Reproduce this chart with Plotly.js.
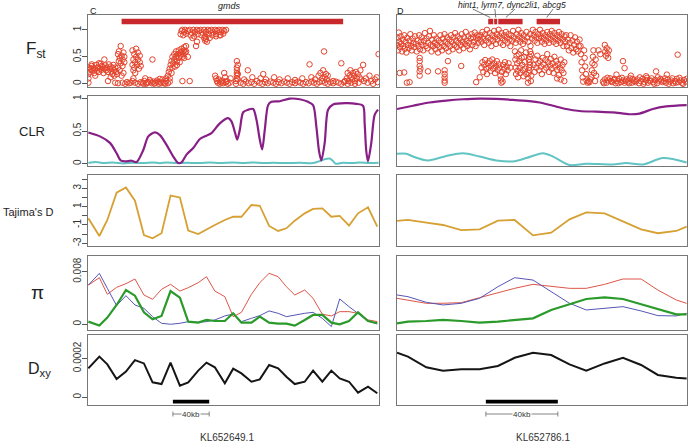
<!DOCTYPE html>
<html>
<head>
<meta charset="utf-8">
<script src="https://cdn.plot.ly/plotly-3.0.1.min.js"></script>
<style>body{margin:0;background:#fff}#chart{width:690px;height:444px}</style>
</head>
<body>
<div id="chart"></div>
<script>
// ---- data (positions in kb along each scaffold) ----
var scaffolds = ['KL652649.1', 'KL652786.1'];
var panelLetters = ['C', 'D'];

// Fst per SNP, [kb, Fst]
var fstLeft = [
  [0.5,0.02],[0.5,0.1],[0.5,0.18],[0.5,0.25],[1,0.3],[2,0.22],[3,0.28],[4,0.33],[5,0.25],[6,0.3],[7,0.2],[8,0.27],[9,0.35],[10,0.24],
  [11,0.3],[12,0.22],[13,0.28],[14,0.37],[15,0.26],[16,0.31],[17,0.2],[18,0.28],[19,0.34],[20,0.25],[21,0.3],[22,0.22],[23,0.36],
  [24,0.27],[25,0.32],[26,0.23],[27,0.29],[28,0.35],[29,0.25],[30,0.3],[31,0.22],[18,0.45],[12,0.38],[25,0.12],[29,0.15],[22,0.05],
  [8,0.15],[4,0.36],[15,0.33],[27,0.18],
  [32,0.18],[33,0.55],[33,0.3],[34,0.42],[34,0.6],[35,0.48],[35,0.25],[36,0.7],[36,0.38],[37,0.52],[37,0.15],[38,0.45],[38,0.33],
  [39,0.58],[39,0.2],[40,0.4],[40,0.5],[30,0.02],[33,0.01],[38,0.02],[41,0.0],[43,0.03],[45,0.01],[47,0.02],
  [49,0.35],[49,0.62],[50,0.25],[50,0.45],[51,0.55],[51,0.3],[52,0.4],[52,0.2],[53,0.65],[53,0.5],[54,0.35],[55,0.45],[55,0.58],
  [56,0.28],[57,0.4],[57,0.52],[58,0.33],[49,0.05],[50,0.1],[52,0.02],[55,0.0],[58,0.03],
  [60,0.02],[62,0.05],[64,0.0],[66,0.03],[68,0.07],[70,0.01],[72,0.04],[74,0.02],[76,0.06],[78,0.0],[80,0.03],[82,0.08],[84,0.02],
  [86,0.05],[88,0.01],[90,0.04],[63,0.1],[71,0.45],[79,0.09],[86,0.1],[61,0.0],[65,0.02],[69,0.04],[73,0.0],[77,0.03],[81,0.01],[85,0.0],
  [88,0.15],[89,0.22],[90,0.1],[90,0.28],[91,0.35],[92,0.2],[92,0.42],[93,0.3],[93,0.5],[94,0.38],[95,0.55],[95,0.45],[96,0.32],
  [97,0.5],[97,0.6],[98,0.42],[99,0.55],[100,0.48],[100,0.62],[101,0.4],[102,0.58],[102,0.52],[103,0.65],[104,0.5],[104,0.6],
  [105,0.55],[106,0.68],[106,0.62],[107,0.58],[108,0.7],[108,0.6],[110,0.5],[112,0.05],[98,0.35],[104,0.05],[106,0.48],
  [102,0.92],[103,0.98],[104,1.0],[105,0.9],[106,0.96],[107,1.0],[108,0.93],[110,0.98],[112,1.0],[113,0.9],[114,0.95],[116,1.0],
  [117,0.88],[118,0.96],[120,1.0],[121,0.92],[122,0.98],[124,1.0],[125,0.9],[126,0.95],[128,1.0],[129,0.88],[130,0.96],[132,1.0],
  [133,0.92],[134,0.98],[136,1.0],[137,0.9],[138,0.95],[140,1.0],[141,0.92],[142,0.98],[144,1.0],[145,0.9],[146,0.96],[148,1.0],
  [149,0.93],[150,0.98],[152,1.0],[115,0.85],[119,0.7],[120,0.78],[128,0.85],[129,0.8],[130,0.83],[131,0.78],[134,0.85],[141,0.88],[146,0.9],
  [140,0.15],[141,0.1],[142,0.05],[143,0.02],[144,0.08],[145,0.0],[146,0.04],[147,0.02],[148,0.06],[150,0.2],[151,0.12],[152,0.03],
  [154,0.0],[156,0.02],[157,0.1],[149,0.01],[153,0.05],
  [163,0.0],[163,0.05],[164,0.1],[164,0.15],[164,0.2],[164,0.25],[164,0.3],[165,0.35],[164,0.42],[165,0.08],[165,0.18],
  [168,0.02],[171,0.0],[174,0.04],[177,0.01],[180,0.03],[183,0.0],[186,0.05],[189,0.02],[192,0.0],[195,0.03],[198,0.01],[201,0.04],
  [204,0.02],[207,0.0],[210,0.03],[213,0.01],[216,0.04],[219,0.02],[222,0.0],[225,0.03],[228,0.01],[231,0.04],[234,0.02],[237,0.0],
  [240,0.03],[243,0.01],[246,0.04],[249,0.02],[252,0.0],[255,0.03],[258,0.05],[261,0.02],[264,0.0],[267,0.03],[270,0.01],[273,0.04],
  [276,0.02],[279,0.0],[282,0.03],
  [172,0.08],[176,0.25],[181,0.12],[190,0.1],[193,0.18],[196,0.08],[205,0.12],[211,0.08],[220,0.1],[228,0.07],[236,0.1],[244,0.36],
  [246,0.12],[250,0.08],[254,0.15],[256,0.2],[258,0.1],[259,0.25],[260,0.6],[261,0.12],[262,0.18],[263,0.08],[264,0.15],[270,0.05],
  [279,0.38],[283,0.05],
  [285,0.1],[286,0.2],[287,0.05],[288,0.15],[289,0.25],[290,0.12],[291,0.08],[292,0.2],[293,0.15],[294,0.05],[295,0.22],[296,0.1],
  [297,0.18],[298,0.02],[299,0.12],[300,0.25],[301,0.08],[286,0.0],[290,0.02],[294,0.0],
  [303,0.35],[304,0.05],[306,0.1],[308,0.02],[310,0.15],[312,0.05],[314,0.0],[316,0.08],[318,0.12],[320,0.55],[319,0.03]
];

var fstRight = [
  [0,0.72],[0.3,0.85],[0.6,0.62],[1,0.95],[1.2,0.78],[1.6,0.68],[2,0.88],[2.3,0.74],[2.8,0.6],[3.2,0.82],[3.5,0.7],[4,0.9],
  [4.4,0.65],[4.8,0.78],[5.2,0.58],[5.6,0.85],[6,0.72],[6.5,0.66],[7,0.8],[7.4,0.92],[7.8,0.7],[8.2,0.62],[8.7,0.84],[9.1,0.76],
  [9.6,0.68],[10,0.88],[10.5,0.74],[11,0.6],[11.4,0.8],[11.9,0.7],[12.3,0.9],[12.8,0.64],[13.2,0.78],[13.7,0.86],[14.1,0.72],
  [14.6,0.62],[15,0.8],[15.5,0.94],[16,0.7],[16.4,0.84],[16.9,0.66],[17.3,0.76],[17.8,0.88],[18.3,0.98],[18.7,0.72],[19.2,0.6],
  [19.6,0.82],[20.1,0.7],[20.5,0.9],[21,0.76],[21.4,0.64],[21.9,0.84],[22.3,0.72],[22.8,0.58],[23.2,0.8],[23.7,0.68],[24.1,0.9],
  [24.6,0.76],[25,0.62],[25.5,0.84],[26,0.7],[26.4,0.92],[26.9,0.78],[27.3,0.66],[27.8,0.86],[28.2,0.74],[28.7,0.6],[29.1,0.82],
  [29.6,0.7],[30,0.9],[30.5,0.78],[31,0.64],[31.4,0.86],[31.9,0.72],[32.3,0.94],[32.8,0.8],[33.2,0.68],[33.7,0.88],[34.1,0.76],
  [34.6,0.62],[35,0.84],[35.5,0.72],[36,0.92],[36.4,0.78],[36.9,0.66],[37.3,0.86],[37.8,0.74],[38.2,0.96],[38.7,0.8],[39.1,0.7],
  [39.6,0.88],[40,0.76],[40.5,0.64],[41,0.84],[41.4,0.92],[41.9,0.72],[42.3,0.86],[42.8,0.78],[43.2,0.95],[43.7,0.7],[44.1,0.84],
  [44.6,0.9],[45,0.76],[45.5,0.88],[46,0.82],
  [1.5,0.2],[4,0.21],[5.5,0.02],[7,0.03],[12.6,0.48],[12.6,0.42],[12.6,0.33],[12.6,0.23],[12.6,0.15],[13,0.28],[17.2,0.23],
  [22.8,0.23],[26.5,0.25],[26.5,0.18],[26.5,0.12],[26.5,0.06],[26.5,0.02],[28.3,0.42],[35.7,0.33],[44,0.03],
  [46.5,0.9],[47,0.78],[47.5,0.96],[48,0.84],[48.5,0.72],[49,0.92],[49.5,0.8],[50,1.0],[50.5,0.86],[51,0.76],[51.5,0.94],[52,0.82],
  [52.5,0.7],[53,0.9],[53.5,0.8],[54,0.98],[54.5,0.86],[55,0.74],[55.5,0.92],[56,0.82],[56.5,1.0],[57,0.88],[57.5,0.76],[58,0.94],
  [58.5,0.84],[59,0.72],[59.5,0.9],[60,0.8],[60.5,0.96],[61,0.86],[61.5,0.76],[62,0.92],[62.5,0.82],[63,0.7],[63.5,0.9],[64,0.8],
  [64.5,0.98],[65,0.86],[66,0.76],[66.5,0.92],[67,0.82],[67.5,1.0],[68,0.88],[68.5,0.78],[69,0.94],[69.5,0.84],[70,0.74],[70.5,0.9],
  [71,0.8],[72,0.96],[72.5,0.86],[73,0.78],[74,0.92],[75,0.84],[75.5,1.0],
  [46,0.12],[47,0.3],[47.5,0.4],[48,0.22],[48.5,0.35],[49,0.44],[49.5,0.28],[50,0.18],[50.5,0.38],[51,0.3],[51.5,0.42],[52,0.24],
  [52.5,0.34],[53,0.45],[53.5,0.28],[54,0.38],[54.5,0.2],[55,0.32],[55.5,0.42],[56,0.26],[56.5,0.36],[57,0.3],[57.5,0.15],[57.8,0.08],
  [58,0.02],[58.3,0.22],[58.7,0.04],[59,0.35],[59.5,0.28],[60,0.4],[60.5,0.18],[61,0.32],[61.5,0.25],[62,0.38],[63,0.3],
  [65.6,0.6],[65.8,0.45],[66,0.3],[66.2,0.18],[66.5,0.52],[66.8,0.38],[67,0.24],[67.3,0.12],[67.6,0.55],[68,0.42],[68.3,0.3],
  [68.6,0.2],[69,0.62],[69.3,0.48],[69.6,0.35],[70,0.25],[70.3,0.14],[70.6,0.5],[71,0.4],[71.3,0.28],[71.7,0.58],[71.9,0.18],
  [72.8,0.02],[73,0.1],[73.2,0.2],[73.4,0.3],[73.6,0.4],[73.8,0.5],[74,0.6],[74.2,0.7],[74.4,0.05],[74.6,0.15],[73.5,0.25],
  [74,0.35],[73.3,0.45],[74.5,0.55],
  [76,0.9],[76.5,0.8],[77,0.96],[77.5,0.86],[78,0.76],[78.5,0.92],[79,0.84],[79.5,1.0],[80,0.88],[80.5,0.78],[81,0.94],[81.5,0.84],
  [82,0.74],[82.5,0.9],[83,0.8],[83.5,0.96],[84,0.86],[84.5,0.76],[85,0.92],[85.5,0.82],[86,0.98],[86.5,0.88],[87,0.78],[87.5,0.94],
  [88,0.84],[88.5,0.74],[89,0.9],[89.5,0.8],[90,0.96],[90.5,0.86],[91,0.76],[91.5,0.92],[92,0.82],[92.5,0.7],[93,0.88],[93.5,0.78],
  [76,0.35],[76.5,0.22],[77,0.45],[77.5,0.3],[78,0.52],[78.5,0.38],[79,0.25],[79.5,0.42],[80,0.32],[80.5,0.18],[81,0.48],[81.5,0.36],
  [82,0.26],[82.5,0.44],[83,0.3],[83.5,0.55],[84,0.4],[84.5,0.22],[85,0.34],[85.5,0.46],[86,0.28],[86.5,0.38],[87,0.2],[87.5,0.5],
  [88,0.32],[88.5,0.42],[89,0.26],[89.5,0.36],[90,0.16],[90.5,0.3],[91,0.45],[91.5,0.25],[92,0.35],[92.5,0.2],[93,0.4],
  [89,0.1],[91,0.08],[93,0.05],
  [94,0.9],[94.5,0.7],[95,0.82],[95.5,0.62],[96,0.76],[96.5,0.9],[97,0.66],[97.5,0.8],[98,0.58],[98.5,0.72],[99,0.86],[99.5,0.64],
  [100,0.78],[100.5,0.6],[101,0.7],[101.5,0.82],
  [102,0.7],[102.3,0.55],[102.6,0.4],[102.9,0.25],[103.2,0.12],[103.5,0.04],[104,0.62],[104.3,0.48],[104.6,0.32],[105,0.18],
  [105.4,0.06],[106,0.02],[106.5,0.05],[107,0.03],[107.5,0.08],[108,0.12],[108.3,0.25],[108.6,0.38],[108.9,0.5],[109.2,0.62],
  [109.5,0.2],[109.8,0.35],[110.1,0.05],[110.4,0.45],[110.7,0.15],
  [112,0.62],[113,0.55],[115.5,0.72],[115.8,0.6],[116.2,0.52],[116.6,0.66],[117,0.56],[117.4,0.48],[117.8,0.62],
  [114.5,0.04],[115.5,0.08],[116.5,0.02],[117.5,0.06],[118.5,0.1],[119.5,0.03],[120.5,0.07],[121.5,0.01],[122.5,0.05],[123.5,0.09],
  [124.5,0.03],[125.5,0.06],[126.5,0.02],[127.5,0.08],[128.5,0.04],[129.5,0.1],[130.5,0.02],[131.5,0.06],[132.5,0.03],[133.5,0.08],
  [134.5,0.01],[135.5,0.05],[136.5,0.09],[137.5,0.03],[138.5,0.07],[139.5,0.02],[140.5,0.05],[141.5,0.1],[142.5,0.03],[143.5,0.07],
  [144.5,0.01],[145.5,0.06],[146.5,0.09],[147.5,0.03],[148.5,0.05],[149.5,0.02],[150.5,0.08],[151.5,0.04],[152.5,0.06],[153.5,0.01],
  [154.5,0.05],[155.5,0.09],[156.5,0.03],[157.5,0.06],[158.5,0.02],[159.5,0.07],[160.5,0.04],
  [115,0.01],[117,0.11],[119,0.05],[121,0.09],[123,0.01],[125,0.11],[127,0.05],[129,0.01],[131,0.09],[133,0.05],[135,0.12],
  [137,0.0],[139,0.11],[141,0.06],[143,0.0],[145,0.12],[147,0.06],[149,0.1],[151,0.0],[153,0.1],[155,0.02],[157,0.11],[159,0.0],
  [161,0.09],
  [125.6,0.42],[126.5,0.29],[122,0.17],[138.5,0.14],[144,0.23],[156,0.54],[130,0.15],[150,0.17]
];

// CLR (two populations)
var clrLeftKb = [0.4,13.2,24.2,31.5,35.9,40.7,48.1,53.5,60.9,66.4,73.7,79.2,86.5,93.9,99.4,103,108.5,115.9,123.2,130.5,136,
  145.2,154.4,158,161.7,164.3,167.2,170.9,176.4,181.9,185.6,189.2,191.8,194.7,198.4,202,211.2,222.2,233.2,242.4,247.9,251.5,
  254.5,257,260.7,264.4,269.9,284.5,295.5,302.9,304.7,306.5,308.4,312,315.7,319.4];
var clrLeftA = [0.48,0.42,0.32,0.16,0.05,0.036,0.046,0.026,0.21,0.42,0.48,0.44,0.29,0.11,0.01,0.02,0.14,0.24,0.38,0.43,0.47,
  0.62,0.70,0.65,0.49,0.37,0.52,0.79,0.83,0.84,0.67,0.37,0.22,0.52,0.9,0.95,0.96,1.0,0.99,0.95,0.9,0.57,
  0.19,0.05,0.32,0.83,0.91,0.93,0.92,0.89,0.62,0.19,0.04,0.32,0.75,0.83];
var clrLeftBKb = [0.4,8.8,15.8,27.9,38.9,49.9,60.9,71.9,79.2,86.5,97.5,108.5,123.2,134.2,145.2,159.9,170.9,181.9,192.9,203.9,
  218.5,233.2,247.9,255.2,260.7,266.2,269.9,272.8,280.9,291.9,299.2,310.2,320];
var clrLeftB = [0.01,0.025,0.01,0.02,0.005,0.015,0.01,0.02,0.008,0.02,0.01,0.015,0.01,0.02,0.01,0.02,0.01,0.02,0.01,0.015,
  0.01,0.015,0.01,0.04,0.07,0.08,0.04,0.0,0.015,0.01,0.02,0.01,0.015];
var clrRightKb = [0,8.9,18.1,27.4,36.7,45.9,55.2,64.4,73.7,79.3,86.7,94.1,101.5,110.7,120,129.3,134.8,142.2,149.6,161];
var clrRightA = [0.84,0.89,0.94,0.97,0.99,1.0,0.995,0.98,0.96,0.94,0.89,0.84,0.81,0.80,0.79,0.76,0.77,0.84,0.88,0.9];
var clrRightBKb = [0,5.2,8.9,17.2,27.4,36.7,45.9,55.2,64.4,71.9,81.1,86.7,95.9,105.2,120,127.4,136.7,147.8,161];
var clrRightB = [0.153,0.153,0.11,0.05,0.12,0.16,0.11,0.05,0.036,0.087,0.16,0.11,-0.02,0.0,-0.012,0.01,-0.012,0.087,0.02];

// windowed statistics
var winLeft = [0.4,12.5,21.3,31.5,41.8,51.7,61.6,71.1,81,90.9,101.2,110.4,121.4,130.5,139.7,150.7,159.9,169,180,189.2,199.5,
  209.4,218.5,227.7,238.7,247.9,258.1,268,277.2,287.5,297.4,308.4,318.6];
var winRight = [0,6.1,16.3,25.6,35.7,45.9,56.1,65.4,75.6,85.7,95.9,105.2,115.4,125.6,135.7,145,155.2,161];

var tajimaLeft = [-0.27,-2.2,-0.45,2.53,3.1,1.65,-2.1,-2.45,-1.9,2.2,2.0,-1.6,-1.98,-1.47,-1.0,-0.45,-0.1,-0.1,1.18,1.1,
  -1.1,-1.65,-1.36,-0.53,0.27,0.75,0.82,-0.1,0.0,-1.07,0.27,0.93,-1.18];
var tajimaRight = [-0.56,-0.45,-0.75,-1.0,-1.55,-1.47,-0.53,-0.45,-2.13,-1.84,-0.38,0.38,0.27,-0.64,-1.47,-1.9,-1.65,-1.18];

var piLeftRed = [0.00597,0.00709,0.00456,0.00562,0.00618,0.00689,0.00446,0.0038,0.00532,0.00608,0.00506,0.00557,0.00633,
  0.00724,0.00506,0.0042,0.00116,0.00182,0.00456,0.00633,0.00775,0.00724,0.00572,0.00446,0.00521,0.00395,0.00152,0.00127,
  0.00192,0.00192,0.00167,0.00066,0.00041];
var piLeftBlue = [0.00597,0.00775,0.00547,0.00284,0.00435,0.00294,0.00243,0.00116,0.00015,0.0,0.00015,0.0004,0.0003,0.0004,
  0.00066,0.00127,0.00157,0.0004,0.00091,0.00132,0.00203,0.00167,0.00116,0.00142,0.00167,0.00182,0.0009,-0.00035,0.00385,
  0.00268,0.00167,0.0005,0.00005];
var piLeftGreen = [0.0004,-0.0002,0.00101,0.00294,0.00521,0.00435,0.00182,0.00076,0.00127,0.00506,0.00405,0.0004,0.00025,
  0.00066,0.0005,0.0005,0.00167,0.00025,0.00025,0.00116,0.00025,0.0001,0.0001,-0.0002,0.00066,0.00142,0.00142,0.00025,0.0,
  0.0005,0.00182,0.0005,0.00015];
var piRightRed = [0.00395,0.0037,0.00319,0.0032,0.00329,0.00405,0.0048,0.00547,0.00608,0.00572,0.00547,0.00547,0.00608,
  0.00689,0.00689,0.00521,0.0037,0.00319];
var piRightBlue = [0.00446,0.0042,0.00334,0.00294,0.00319,0.00395,0.00572,0.00709,0.00673,0.00496,0.00319,0.00218,0.00243,
  0.00268,0.00203,0.00132,0.00127,0.00167];
var piRightGreen = [0.00015,0.0004,0.0005,0.00066,0.0005,0.00025,0.0004,0.00061,0.00091,0.00218,0.00304,0.00385,0.0041,
  0.00385,0.00304,0.00228,0.00152,0.00152];

var dxyLeft = [1.49e-4,2.09e-4,1.69e-4,9.4e-5,1.32e-4,1.91e-4,1.74e-4,7.7e-5,6.8e-5,1.78e-4,6.0e-5,7.7e-5,1.37e-4,1.78e-4,
  1.54e-4,7.2e-5,1.47e-4,1.23e-4,8.0e-5,9.2e-5,1.66e-4,1.49e-4,1.06e-4,6.8e-5,8.0e-5,1.37e-4,8.0e-5,1.37e-4,9.7e-5,8.0e-5,
  2.4e-5,5.5e-5,2.1e-5];
var dxyRight = [2.29e-4,2.09e-4,1.54e-4,1.37e-4,1.44e-4,1.44e-4,1.61e-4,2.03e-4,2.29e-4,2.17e-4,1.69e-4,1.37e-4,1.74e-4,
  2.03e-4,1.66e-4,1.15e-4,1.01e-4,9.7e-5];

// genes (kb)
var genesLeft = {name: 'gmds', start: [37], end: [281]};
var genesRight = {name: 'hint1, lyrm7, dync2li1, abcg5', start: [50.7, 54.0, 56.3, 77.6], end: [53.5, 55.7, 69.8, 90.6]};
var scaleStart = [93.5, 49.4];
var scaleLen = 40;

// ---- layout helpers ----
var W = 690, H = 444;
var colPx = [[88, 379], [397, 687]];
var rowPx = [[15, 87], [96, 166], [175, 246], [256, 330], [335, 405]];
var kbRange = [[0, 320.5], [0, 161.2]];
var yRanges = [[-0.06, 1.276], [-0.035, 1.04], [-3.29, 4.45], [-0.00087, 0.01039], [-0.0000395, 0.00032]];
var yTicks = [
  {vals: [0, 0.5, 1], text: ['0', '0.5', '1'], minor: []},
  {vals: [0, 0.5, 1], text: ['0', '0.5', '1'], minor: []},
  {vals: [-3, -1, 1, 3], text: ['-3', '-1', '1', '3'], minor: [-2, 0, 2, 4]},
  {vals: [0, 0.008], text: ['0', '0.008'], minor: []},
  {vals: [0, 0.0002], text: ['0', '0.0002'], minor: []}
];
function px2x(p) { return p / W; }
function px2y(p) { return 1 - p / H; }
function axName(r, c) { var n = r * 2 + c + 1; return n === 1 ? '' : String(n); }

var layout = {
  width: W, height: H,
  margin: {l: 0, r: 0, t: 0, b: 0},
  paper_bgcolor: '#fff', plot_bgcolor: '#fff',
  showlegend: false,
  font: {family: 'Liberation Sans, Arial, sans-serif', color: '#222'},
  shapes: [], annotations: []
};

for (var r = 0; r < 5; r++) {
  for (var c = 0; c < 2; c++) {
    var n = axName(r, c);
    layout['xaxis' + n] = {
      domain: [px2x(colPx[c][0]), px2x(colPx[c][1])], range: kbRange[c], anchor: 'y' + n,
      showline: true, mirror: true, linecolor: '#777', linewidth: 1,
      showgrid: false, zeroline: false, showticklabels: false, ticks: '', fixedrange: true
    };
    var ya = {
      domain: [px2y(rowPx[r][1]), px2y(rowPx[r][0])], range: yRanges[r], anchor: 'x' + n,
      showline: true, mirror: true, linecolor: '#777', linewidth: 1,
      showgrid: false, zeroline: false, fixedrange: true
    };
    if (c === 0) {
      ya.tickmode = 'array'; ya.tickvals = yTicks[r].vals; ya.ticktext = yTicks[r].text;
      ya.ticks = 'outside'; ya.ticklen = 5; ya.tickcolor = '#555'; ya.tickwidth = 1;
      ya.tickangle = -90; ya.tickfont = {size: 10, color: '#333'}; ya.ticklabelstandoff = -3;
      if (yTicks[r].minor.length) {
        ya.minor = {tickmode: 'array', tickvals: yTicks[r].minor, ticks: 'outside', ticklen: 5, tickcolor: '#555', tickwidth: 1, showgrid: false};
      }
    } else {
      ya.showticklabels = false; ya.ticks = '';
    }
    layout['yaxis' + n] = ya;
  }
}

// ---- traces ----
var data = [];
function line(x, y, r, c, color, width, shape) {
  var n = axName(r, c);
  data.push({x: x, y: y, xaxis: 'x' + n, yaxis: 'y' + n, type: 'scatter', mode: 'lines',
    line: {color: color, width: width, shape: shape || 'linear', smoothing: 0.8}, hoverinfo: 'skip'});
}
[fstLeft, fstRight].forEach(function (pts, c) {
  var n = axName(0, c);
  data.push({
    x: pts.map(function (p) { return p[0]; }), y: pts.map(function (p) { return p[1]; }),
    xaxis: 'x' + n, yaxis: 'y' + n, type: 'scatter', mode: 'markers',
    marker: {symbol: 'circle-open', size: 5.5, color: '#e4432b', line: {width: 1, color: '#e4432b'}}, hoverinfo: 'skip'
  });
});
line(clrLeftBKb, clrLeftB, 1, 0, '#62c3c3', 2, 'spline');
line(clrLeftKb, clrLeftA, 1, 0, '#881f86', 2.2, 'spline');
line(clrRightBKb, clrRightB, 1, 1, '#62c3c3', 2, 'spline');
line(clrRightKb, clrRightA, 1, 1, '#881f86', 2.2, 'spline');
line(winLeft, tajimaLeft, 2, 0, '#d6a032', 1.8);
line(winRight, tajimaRight, 2, 1, '#d6a032', 1.8);
line(winLeft, piLeftRed, 3, 0, '#dd5548', 1);
line(winLeft, piLeftBlue, 3, 0, '#5656b4', 1);
line(winLeft, piLeftGreen, 3, 0, '#2a9a2a', 2.2);
line(winRight, piRightRed, 3, 1, '#dd5548', 1);
line(winRight, piRightBlue, 3, 1, '#5656b4', 1);
line(winRight, piRightGreen, 3, 1, '#2a9a2a', 2.2);
line(winLeft, dxyLeft, 4, 0, '#151515', 2);
line(winRight, dxyRight, 4, 1, '#151515', 2);

// ---- genes, scale bars, labels ----
var geneY = [px2y(24.3), px2y(18.8)];
[genesLeft, genesRight].forEach(function (g, c) {
  var xr = 'x' + axName(0, c);
  g.start.forEach(function (s, i) {
    layout.shapes.push({type: 'rect', xref: xr, yref: 'paper', x0: s, x1: g.end[i], y0: geneY[0], y1: geneY[1],
      fillcolor: '#c8282b', line: {width: 0}});
  });
});
// connector lines from gene names to right-hand genes
var conFrom = [42.1, 54.4, 65.6, 86.8];
var conTo = [51.8, 54.9, 60.5, 83.2];
conFrom.forEach(function (f, i) {
  layout.shapes.push({type: 'line', xref: 'x2', yref: 'paper', x0: f, x1: conTo[i], y0: px2y(9), y1: px2y(17.5),
    line: {color: '#555', width: 0.8}});
});

var ann = layout.annotations;
function lab(text, x, y, size, extra) {
  var a = {text: text, xref: 'paper', yref: 'paper', x: px2x(x), y: px2y(y), showarrow: false,
    xanchor: 'center', yanchor: 'middle', font: {size: size, color: '#222'}};
  for (var k in extra) a[k] = extra[k];
  ann.push(a);
}
lab('<i>' + genesLeft.name + '</i>', 229, 6, 9);
lab('<i>' + genesRight.name + '</i>', 512, 5, 8.5);
lab(panelLetters[0], 93, 11, 9);
lab(panelLetters[1], 400, 11, 9);

lab('F<sub>st</sub>', 36, 50, 17);
lab('CLR', 32, 131, 13);
lab('Tajima\'s D', 28, 212, 11);
lab('\u03c0', 37, 292, 19);
lab('D<sub>xy</sub>', 39, 369, 16);

[0, 1].forEach(function (c) {
  var xr = 'x' + axName(4, c);
  var s = scaleStart[c], e = scaleStart[c] + scaleLen;
  layout.shapes.push({type: 'rect', xref: xr, yref: 'paper', x0: s, x1: e, y0: px2y(403.5), y1: px2y(399.8),
    fillcolor: '#000', line: {width: 0}});
  layout.shapes.push({type: 'line', xref: xr, yref: 'paper', x0: s, x1: e, y0: px2y(414), y1: px2y(414),
    line: {color: '#666', width: 0.8}});
  [s, e].forEach(function (v) {
    layout.shapes.push({type: 'line', xref: xr, yref: 'paper', x0: v, x1: v, y0: px2y(411.5), y1: px2y(416.5),
      line: {color: '#666', width: 0.8}});
  });
  ann.push({text: '40kb', xref: xr, yref: 'paper', x: (s + e) / 2, y: px2y(414), showarrow: false,
    xanchor: 'center', yanchor: 'middle', bgcolor: '#fff', borderpad: 0, font: {size: 8, color: '#333'}});
  ann.push({text: scaffolds[c], xref: 'paper', yref: 'paper', x: px2x(c === 0 ? 227 : 543), y: px2y(437), showarrow: false,
    xanchor: 'center', yanchor: 'middle', font: {size: 10, color: '#333'}});
});

Plotly.newPlot('chart', data, layout, {displayModeBar: false, staticPlot: true});
</script>
</body>
</html>
